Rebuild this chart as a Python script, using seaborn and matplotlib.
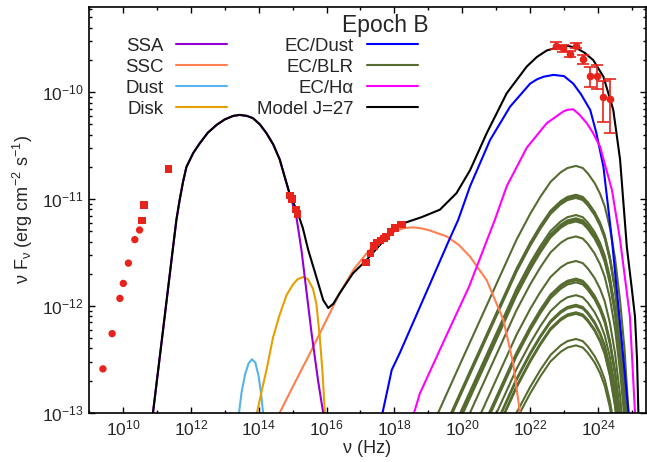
import numpy as np
import pandas as pd
import matplotlib
matplotlib.use("Agg")
import matplotlib.pyplot as plt
import seaborn as sns
from matplotlib.lines import Line2D
from matplotlib.ticker import FixedLocator, LogFormatterSciNotation, NullFormatter

# model components: log10(nu / Hz) and log10(nu F_nu)
ssa_x = [10.885, 11.18, 11.45, 11.575, 11.67, 11.77, 11.87, 12.07, 12.26, 12.5, 12.76, 13.0, 13.25,
         13.44, 13.65, 13.83, 14.03, 14.23, 14.43, 14.62, 14.79, 15.11, 15.26, 15.56, 15.75, 15.90]
ssa_y = [-13.0, -12.23, -11.52, -11.195, -11.01, -10.84, -10.70, -10.57, -10.48, -10.38, -10.306, -10.255, -10.222,
         -10.213, -10.222, -10.243, -10.30, -10.384, -10.49, -10.63, -10.82, -11.165, -11.477, -12.26, -12.7, -13.0]

ssc_x = [14.62, 15.0, 15.5, 16.0, 16.39, 16.8, 17.2, 17.5, 17.77, 18.1, 18.3, 18.55,
         18.8, 19.0, 19.54, 19.9, 20.23, 20.72, 21.21, 21.50, 21.70]
ssc_y = [-13.0, -12.76, -12.45, -12.13, -11.88, -11.66, -11.50, -11.40, -11.33, -11.29, -11.272, -11.265,
         -11.275, -11.29, -11.35, -11.43, -11.54, -11.76, -12.13, -12.54, -13.0]

dust_x = [13.42, 13.5, 13.6, 13.7, 13.8, 13.9, 14.0, 14.07, 14.13]
dust_y = [-13.0, -12.8, -12.64, -12.54, -12.50, -12.53, -12.66, -12.82, -13.0]

disk_x = [13.95, 14.1, 14.23, 14.42, 14.6, 14.82, 15.01, 15.15, 15.31, 15.45, 15.60,
          15.70, 15.80, 15.88, 15.95]
disk_y = [-13.0, -12.78, -12.60, -12.30, -12.10, -11.90, -11.80, -11.75, -11.73, -11.75, -11.84,
          -11.98, -12.29, -12.62, -13.0]

ecdust_x = [17.65, 17.8, 17.92, 18.16, 19.0, 19.59, 19.88, 20.23, 20.82, 21.41, 22.0, 22.2,
            22.4, 22.69, 23.0, 23.27, 23.5, 23.77, 23.95, 24.16, 24.41, 24.63, 24.90]
ecdust_y = [-13.0, -12.78, -12.60, -12.44, -11.83, -11.40, -11.195, -10.88, -10.447, -10.135, -9.92, -9.88,
            -9.855, -9.838, -9.85, -9.92, -10.02, -10.166, -10.38, -10.70, -11.38, -12.10, -13.0]

echa_x = [18.58, 18.75, 19.5, 20.2, 20.96, 21.31, 21.90, 22.49, 22.98, 23.1, 23.27, 23.45, 23.67,
          23.85, 24.06, 24.41, 24.65, 24.94, 25.09]
echa_y = [-13.0, -12.82, -12.30, -11.82, -11.195, -10.88, -10.52, -10.29, -10.18, -10.165, -10.16, -10.21, -10.29,
          -10.38, -10.51, -10.915, -11.38, -12.10, -13.0]

model_x = ssa_x[:20] + [14.92, 15.14, 15.30, 15.46, 15.70, 15.90, 16.05, 16.2, 16.39, 16.78,
                        17.18, 17.6, 18.21, 18.8, 19.34, 19.83, 20.23, 20.72, 21.31, 21.90,
                        22.2, 22.49, 22.88, 23.1, 23.37, 23.6, 23.86, 24.16, 24.45, 24.65, 24.85, 25.0,
                        25.09, 25.15, 25.19]
model_y = ssa_y[:20] + [-10.96, -11.12, -11.27, -11.477, -11.73, -11.945, -12.02, -11.98, -11.88, -11.695,
                        -11.57, -11.42, -11.233, -11.17, -11.10, -10.945, -10.73, -10.384, -10.01, -9.76,
                        -9.67, -9.61, -9.573, -9.565, -9.588, -9.63, -9.70, -9.855, -10.166, -10.63, -11.45, -11.85,
                        -12.10, -12.5, -13.0]

# EC/BLR: common line profile (relative to its peak) and the peak level of each line
blr_x = [19.29, 20.0, 20.8, 21.6, 22.0, 22.3, 22.6, 22.9, 23.1, 23.35, 23.55, 23.7, 23.9, 24.06,
         24.2, 24.35, 24.5, 24.65, 24.78, 24.9]
blr_shape = [-2.31, -1.81, -1.25, -0.69, -0.45, -0.29, -0.15, -0.06, -0.02, 0.0, -0.02, -0.07, -0.16, -0.26,
             -0.38, -0.58, -0.86, -1.26, -1.71, -2.31]
blr_peaks = [-10.69, -10.96, -10.975, -10.99, -11.15, -11.18, -11.195, -11.21, -11.35, -11.58,
             -11.745, -11.76, -11.78, -11.90, -11.99, -12.005, -12.06, -12.075, -12.31, -12.37]

# observed points
radio_c_x = [9.41, 9.68, 9.91, 10.01, 10.16, 10.35, 10.49]
radio_c_y = [-12.59, -12.26, -11.93, -11.79, -11.60, -11.38, -11.29]
sq_x = [10.56, 10.62, 11.34, 14.92, 14.98, 15.10, 15.14,
        17.16, 17.30, 17.40, 17.47, 17.59, 17.69, 17.75, 17.89, 18.02, 18.18, 18.22]
sq_y = [-11.20, -11.055, -10.72, -10.97, -11.0, -11.10, -11.14,
        -11.595, -11.51, -11.44, -11.41, -11.39, -11.37, -11.35, -11.31, -11.27, -11.24, -11.24]
gam_x = [22.76, 22.96, 23.16, 23.35, 23.55, 23.77, 23.96, 24.16, 24.36]
gam_f = [2.73, 2.58, 2.29, 2.73, 2.04, 1.43, 1.43, 0.897, 0.865]   # 1e-10
gam_e = [0.19, 0.20, 0.16, 0.16, 0.20, 0.30, 0.37, 0.37, 0.45]      # 1e-10

sns.set_style("ticks")
plt.rcParams['font.family'] = ['Liberation Sans', 'DejaVu Sans']
plt.rcParams['mathtext.fontset'] = 'custom'
plt.rcParams['mathtext.rm'] = 'Liberation Sans'
plt.rcParams['mathtext.it'] = 'Liberation Sans:italic'
plt.rcParams['mathtext.default'] = 'regular'
plt.rcParams['axes.unicode_minus'] = False

fig = plt.figure(figsize=(6.47, 4.62), dpi=100)
ax = fig.add_axes([0.1376, 0.1067, 0.8601, 0.8788])
ax.set_xscale('log')
ax.set_yscale('log')

lw = 1.5
green = '#556b2f'
for p in blr_peaks:
    d = pd.DataFrame({'nu': 10 ** np.array(blr_x), 'f': 10 ** (np.array(blr_shape) + p)})
    sns.lineplot(data=d, x='nu', y='f', ax=ax, sort=False, estimator=None, color=green, lw=lw)

comps = [(ssc_x, ssc_y, '#ff7f50'), (dust_x, dust_y, '#56b4e9'), (disk_x, disk_y, '#e69f00'),
         (ssa_x, ssa_y, '#9400d3'), (ecdust_x, ecdust_y, '#0000ff'), (echa_x, echa_y, '#ff00ff'),
         (model_x, model_y, 'black')]
for xs, ys, c in comps:
    d = pd.DataFrame({'nu': 10 ** np.array(xs), 'f': 10 ** np.array(ys)})
    sns.lineplot(data=d, x='nu', y='f', ax=ax, sort=False, estimator=None, color=c, lw=lw)

red = '#e8231b'
sns.scatterplot(x=10 ** np.array(radio_c_x), y=10 ** np.array(radio_c_y), ax=ax,
                color=red, marker='o', s=28, edgecolor='none', zorder=5)
sns.scatterplot(x=10 ** np.array(sq_x), y=10 ** np.array(sq_y), ax=ax,
                color=red, marker='s', s=28, edgecolor='none', zorder=5)
ax.errorbar(10 ** np.array(gam_x), np.array(gam_f) * 1e-10, yerr=np.array(gam_e) * 1e-10,
            fmt='o', color=red, ms=5.5, mec='none', capsize=4, elinewidth=1.2, capthick=1.2, zorder=6)

ax.set_xlim(1e9, 10 ** 25.4)
ax.set_ylim(1e-13, 10 ** -9.2)

ax.xaxis.set_major_locator(FixedLocator([10.0 ** k for k in range(10, 26, 2)]))
ax.xaxis.set_minor_locator(FixedLocator([10.0 ** k for k in range(9, 26, 2)]))
ax.xaxis.set_major_formatter(LogFormatterSciNotation())
ax.xaxis.set_minor_formatter(NullFormatter())
ax.yaxis.set_major_locator(FixedLocator([1e-13, 1e-12, 1e-11, 1e-10]))
ax.yaxis.set_minor_locator(FixedLocator([m * 10.0 ** k for k in range(-13, -9) for m in range(2, 10)]))
ax.yaxis.set_major_formatter(LogFormatterSciNotation())
ax.yaxis.set_minor_formatter(NullFormatter())
ax.tick_params(which='both', direction='in', top=True, right=True, labelsize=12.5, width=1, color='black')
ax.tick_params(which='major', length=4.5, pad=4)
ax.tick_params(which='minor', length=2.2)
for s in ax.spines.values():
    s.set_linewidth(1.2)
    s.set_color('black')

ax.set_xlabel('ν (Hz)', fontsize=13)
ax.set_ylabel('ν F$_{ν}$ (erg cm$^{-2}$ s$^{-1}$)', fontsize=13)
ax.yaxis.set_label_coords(-0.097, 0.5)
ax.xaxis.set_label_coords(0.5, -0.068)

ax.text(0.532, 0.954, 'Epoch B', transform=ax.transAxes, ha='center', va='center', fontsize=16.5)

labels = ['SSA', 'SSC', 'Dust', 'Disk', 'EC/Dust', 'EC/BLR', 'EC/Hα', 'Model J=27']
colors = ['#9400d3', '#ff7f50', '#56b4e9', '#e69f00', '#0000ff', green, '#ff00ff', 'black']
handles = [Line2D([], [], color=c, lw=lw) for c in colors]
ax.legend(handles, labels, ncol=2, markerfirst=False, frameon=False, fontsize=13.4,
          loc='upper right', bbox_to_anchor=(0.591, 0.923), bbox_transform=ax.transAxes,
          borderpad=0, borderaxespad=0, handlelength=2.75, handletextpad=0.7,
          columnspacing=1.6, labelspacing=0.21)

fig.savefig('out.png', dpi=100)
